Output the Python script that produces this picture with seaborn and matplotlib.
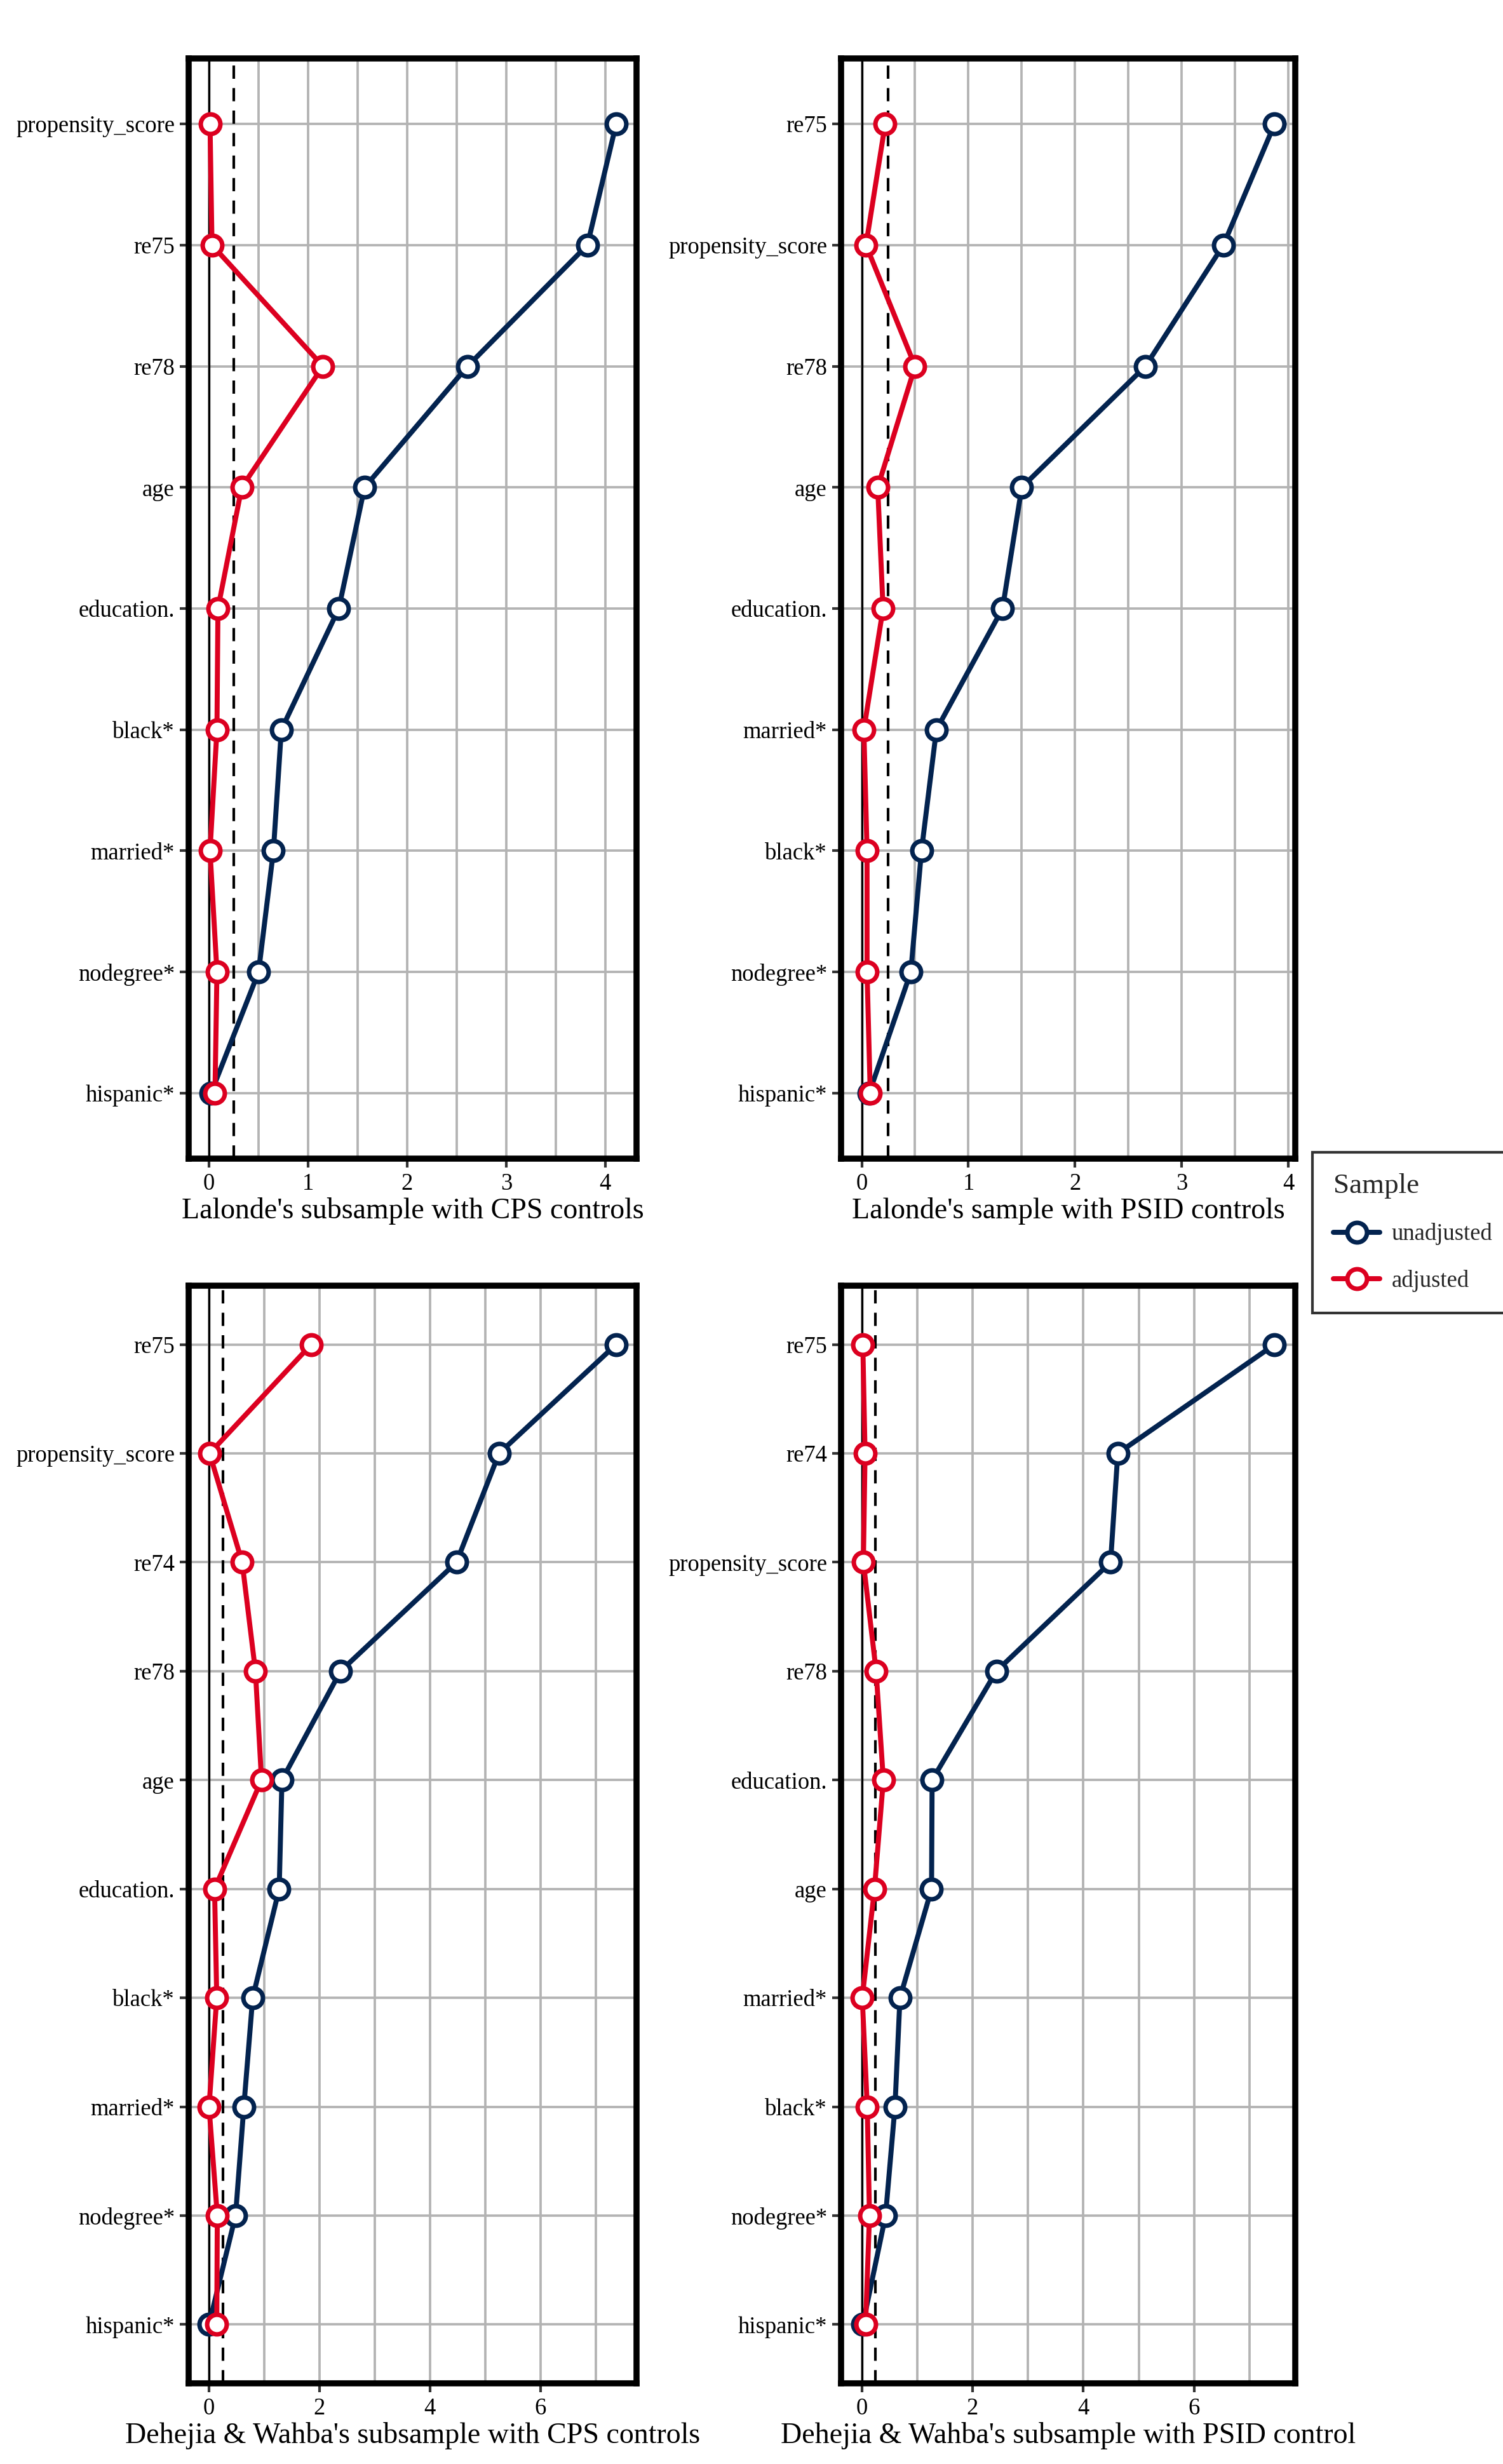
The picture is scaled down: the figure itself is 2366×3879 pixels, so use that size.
import numpy as np
import pandas as pd
import matplotlib
matplotlib.use("Agg")
import matplotlib.pyplot as plt
from matplotlib.ticker import MultipleLocator
from matplotlib.lines import Line2D
import seaborn as sns

# ---------------- data ----------------
titles = [
    "Lalonde's subsample with CPS controls",
    "Lalonde's sample with PSID controls",
    "Dehejia & Wahba's subsample with CPS controls",
    "Dehejia & Wahba's subsample with PSID control",
]

vars_tl = ["propensity_score", "re75", "re78", "age", "education.", "black*",
           "married*", "nodegree*", "hispanic*"]
unadj_tl = [4.11, 3.82, 2.61, 1.57, 1.31, 0.73, 0.65, 0.50, 0.02]
adj_tl = [0.01, 0.03, 1.15, 0.33, 0.09, 0.08, 0.01, 0.08, 0.06]

vars_tr = ["re75", "propensity_score", "re78", "age", "education.", "married*",
           "black*", "nodegree*", "hispanic*"]
unadj_tr = [3.87, 3.39, 2.66, 1.50, 1.32, 0.70, 0.56, 0.46, 0.07]
adj_tr = [0.22, 0.04, 0.50, 0.15, 0.20, 0.02, 0.05, 0.05, 0.08]

vars_bl = ["re75", "propensity_score", "re74", "re78", "age", "education.",
           "black*", "married*", "nodegree*", "hispanic*"]
unadj_bl = [7.37, 5.25, 4.48, 2.38, 1.32, 1.27, 0.79, 0.63, 0.48, 0.00]
adj_bl = [1.85, 0.01, 0.60, 0.84, 0.95, 0.10, 0.14, 0.00, 0.15, 0.14]

vars_br = ["re75", "re74", "propensity_score", "re78", "education.", "age",
           "married*", "black*", "nodegree*", "hispanic*"]
unadj_br = [7.45, 4.62, 4.49, 2.43, 1.27, 1.26, 0.69, 0.60, 0.43, 0.02]
adj_br = [0.02, 0.06, 0.03, 0.26, 0.39, 0.23, 0.01, 0.10, 0.14, 0.07]

samples = ["unadjusted", "adjusted"]
threshold = 0.25

panels = [
    (vars_tl, unadj_tl, adj_tl),
    (vars_tr, unadj_tr, adj_tr),
    (vars_bl, unadj_bl, adj_bl),
    (vars_br, unadj_br, adj_br),
]

# ---------------- style ----------------
sns.set_theme(style="white")
plt.rcParams["font.family"] = ["Liberation Serif", "DejaVu Serif"]

NAVY = "#03234F"
RED = "#DC0020"
palette = {"unadjusted": NAVY, "adjusted": RED}
GRID = "#B3B3B3"
LW, MS, MEW = 1.9, 7.4, 1.7
YPAD = 0.54

W, H, DPI = 2366, 3879, 300
fig = plt.figure(figsize=(W / DPI, H / DPI), dpi=DPI)

# axes rectangles in pixels (left, top, right, bottom)
rects_px = [
    (297, 92, 1002, 1824),
    (1324, 92, 2039, 1824),
    (297, 2024, 1002, 3752),
    (1324, 2024, 2039, 3752),
]
major_steps = [1, 1, 2, 2]

for (vars_, unadj, adj), title, rect, step in zip(panels, titles, rects_px, major_steps):
    l, t, r, b = rect
    ax = fig.add_axes([l / W, 1 - b / H, (r - l) / W, (b - t) / H])
    df = pd.DataFrame({
        "var": vars_ * 2,
        "value": unadj + adj,
        "Sample": ["unadjusted"] * len(vars_) + ["adjusted"] * len(vars_),
    })
    sns.pointplot(
        data=df, x="value", y="var", hue="Sample", order=vars_,
        hue_order=samples, palette=palette, orient="h", errorbar=None,
        markers="o", linestyles="-", legend=False, ax=ax,
        linewidth=LW, markersize=MS, markeredgewidth=MEW,
        markerfacecolor="white", zorder=5,
    )
    n = len(vars_)
    vmax = max(max(unadj), max(adj))
    vmin = min(0, min(unadj), min(adj))
    pad = 0.05 * (vmax - vmin)
    ax.set_xlim(vmin - pad, vmax + pad)
    ax.set_ylim(n - 1 + YPAD, -YPAD)

    ax.axvline(0, color="black", lw=0.8, zorder=3)
    ax.axvline(threshold, color="black", lw=1.0, ls=(0, (5, 3.5)), zorder=3)

    ax.xaxis.set_major_locator(MultipleLocator(step))
    ax.xaxis.set_minor_locator(MultipleLocator(step / 2))
    ax.set_axisbelow(True)
    ax.grid(True, which="both", axis="x", color=GRID, lw=0.9, zorder=0)

    ax.tick_params(axis="both", which="major", direction="out", length=3.3,
                   width=1.0, color="#333333", labelsize=8.8, pad=2,
                   labelcolor="black", bottom=True, left=True)
    ax.tick_params(axis="x", which="minor", length=0)
    # horizontal grid at each category position
    for yc in ax.get_yticks():
        ax.axhline(yc, color=GRID, lw=0.9, zorder=0.6)
    for s in ax.spines.values():
        s.set_visible(True)
        s.set_color("black")
        s.set_linewidth(2.3)
        s.set_zorder(6)
    ax.set_ylabel("")
    ax.set_xlabel(title, fontsize=11, labelpad=1, color="black")

handles = [
    Line2D([], [], color=palette[s], lw=LW, marker="o", markersize=MS,
           markeredgewidth=MEW, markerfacecolor="white")
    for s in samples
]
leg = fig.legend(handles, samples, title="Sample", loc="upper left",
                 bbox_to_anchor=(2066 / W, 1 - 1814 / H), frameon=True,
                 fancybox=False, edgecolor="black", fontsize=8.8,
                 title_fontsize=10.8, handlelength=2.0, borderpad=0.9,
                 labelspacing=1.05, handletextpad=0.5, borderaxespad=0)
leg._legend_box.align = "left"
leg.get_frame().set_linewidth(1.0)

fig.savefig("out.png", dpi=DPI)
